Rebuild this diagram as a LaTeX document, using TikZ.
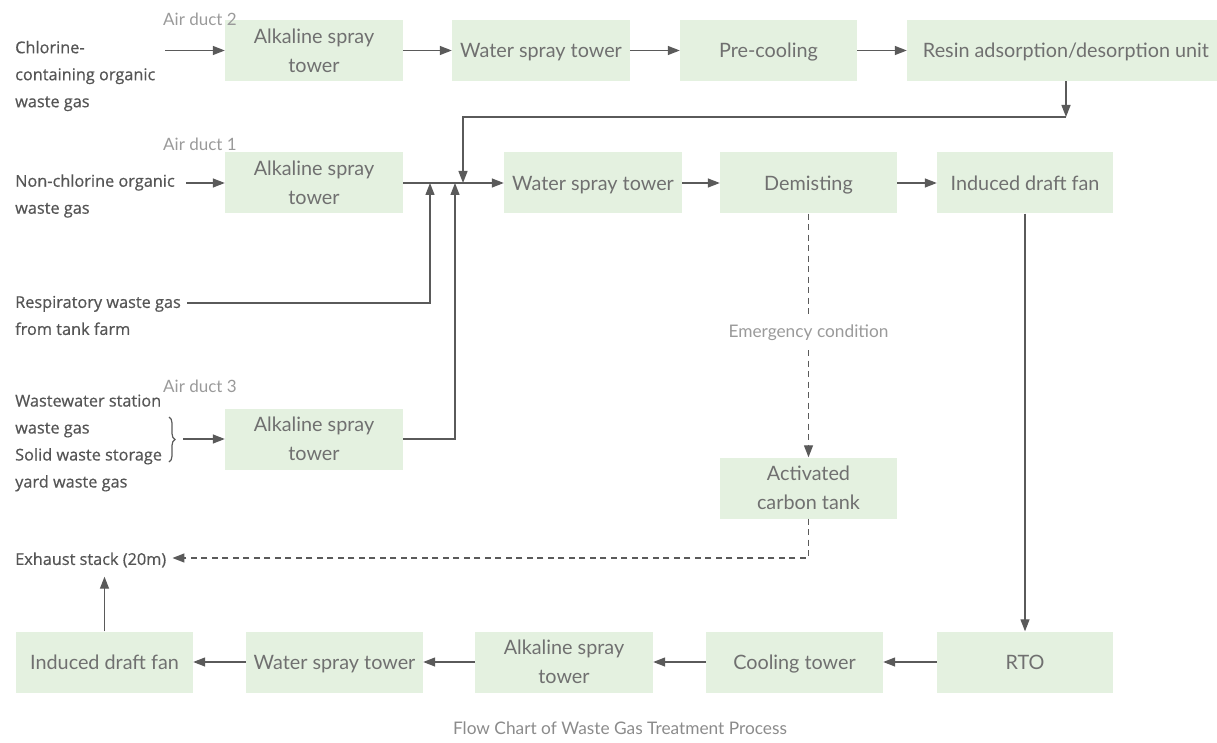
\documentclass[tikz,border=0pt]{standalone}
\usepackage{fontspec}
\setmainfont{Lato}
\newfontfamily\labelfont[FakeBold=0.6]{Open Sans}
\usetikzlibrary{arrows.meta,decorations.pathreplacing}
\definecolor{boxfill}{HTML}{E4F1E0}
\definecolor{linegray}{HTML}{5A5A5A}
\definecolor{boxtext}{HTML}{707070}
\definecolor{labeltext}{HTML}{555555}
\definecolor{softtext}{HTML}{9A9A9A}
\tikzset{
  x=1pt, y=-1pt,
  box/.style={rectangle, fill=boxfill, minimum width=178pt, minimum height=61pt,
    inner sep=0pt, align=center, text=boxtext,
    font=\fontsize{19.8}{29}\selectfont},
  oneline/.style={box, text height=16pt, text depth=1.6pt},
  srclabel/.style={anchor=west, align=left, inner sep=0pt, text=labeltext,
    font=\labelfont\fontsize{16.3}{27}\selectfont},
  ductlabel/.style={inner sep=0pt, text=softtext, font=\fontsize{17}{20}\selectfont},
  flow/.style={draw=linegray, line width=1.3pt,
    -{Triangle[length=12pt,width=9pt]}},
  dashflow/.style={flow, dash pattern=on 6pt off 4.5pt},
}
\begin{document}
\begin{tikzpicture}
\useasboundingbox (0,0) rectangle (1217,743);

% upper row: chlorine-containing line
\node[box] (alkA) at (314,50.5) {Alkaline spray\\tower};
\node[oneline] (wsA) at (541,50.5) {Water spray tower};
\node[oneline, minimum width=177pt] (pre) at (768.5,50.5) {Pre-cooling};
\node[oneline, minimum width=318pt] (resin) at (1066,50.5) {Resin adsorption/desorption unit};

% second row: main treatment line
\node[box] (alkB) at (314,183) {Alkaline spray\\tower};
\node[oneline] (wsB) at (593,183) {Water spray tower};
\node[oneline, minimum width=177pt] (demist) at (808.5,183) {Demisting};
\node[oneline, minimum width=176pt] (fanA) at (1025,183) {Induced draft fan};

% air duct 3
\node[box] (alkC) at (314,439) {Alkaline spray\\tower};

% emergency branch
\node[box, minimum width=177pt] (carbon) at (808.5,488) {Activated\\carbon tank};

% bottom row: RTO line
\node[oneline, minimum width=176pt] (rto) at (1025,662) {RTO};
\node[oneline, minimum width=177pt] (cool) at (794.5,662) {Cooling tower};
\node[box] (alkD) at (564,662) {Alkaline spray\\tower};
\node[oneline, minimum width=177pt] (wsC) at (334.5,662) {Water spray tower};
\node[oneline, minimum width=177pt] (fanB) at (104.5,662) {Induced draft fan};

% sources
\node[srclabel] (chl) at (15,76) {Chlorine-\\containing organic\\waste gas};
\node[srclabel] (nonchl) at (15,196) {Non-chlorine organic\\waste gas};
\node[srclabel] (resp) at (15,315.5) {Respiratory waste gas\\from tank farm};
\node[srclabel] (ww) at (15,443) {Wastewater station\\waste gas\\Solid waste storage\\yard waste gas};
\node[srclabel] (exh) at (15,560) {Exhaust stack (20m)};

% duct labels
\node[ductlabel, anchor=west] (dA) at (163,19) {Air duct 2};
\node[ductlabel, anchor=west] (dB) at (163,144) {Air duct 1};
\node[ductlabel, anchor=west] (dC) at (163,386) {Air duct 3};

% source ends and junction points
\coordinate (chlout) at (165,50.5);
\coordinate (nonout) at (186,183);
\coordinate (respout) at (187,303);
\coordinate (wwout) at (183,439);
\coordinate (jresp) at (430,183);
\coordinate (jalkC) at (455,183);
\coordinate (jresin) at (463,183);
\coordinate (resinturn) at (1066,117);
\coordinate (exhturn) at (808.5,558);

% brace grouping the two sources of air duct 3
\draw[linegray, line width=1.2pt, decorate, decoration={brace, amplitude=6pt}]
  (169,417) -- (169,462);

% upper row connectors
\draw[flow] (chlout) -- (alkA.west);
\draw[flow] (alkA) -- (wsA);
\draw[flow] (wsA) -- (pre);
\draw[flow] (pre) -- (resin);
\draw[flow] (resin.south) -- (resinturn);
\draw[flow] (resinturn) -| (jresin);

% second row connectors
\draw[flow] (nonout) -- (alkB.west);
\draw[flow] (alkB) -- (wsB);
\draw[flow] (respout) -| (jresp);
\draw[flow] (alkC.east) -| (jalkC);
\draw[flow] (wwout) -- (alkC.west);
\draw[flow] (wsB) -- (demist);
\draw[flow] (demist) -- (fanA);

% emergency branch
\draw[dashflow] (demist.south) -- (carbon.north)
  node[pos=0.49, fill=white, inner ysep=7pt, inner xsep=2pt, text=softtext,
       font=\fontsize{17.3}{20}\selectfont] (emer) {Emergency condition};
\draw[dashflow] (carbon.south) -- (exhturn) -- ([xshift=6pt]exh.east |- exhturn);

% RTO line
\draw[flow] (fanA.south) -- (rto.north);
\draw[flow] (rto) -- (cool);
\draw[flow] (cool) -- (alkD);
\draw[flow] (alkD) -- (wsC);
\draw[flow] (wsC) -- (fanB);
\draw[flow] (fanB.north) -- ([yshift=-9pt]fanB.north |- exh.south);

% caption
\node[text=softtext!90!black, font=\fontsize{17.3}{20}\selectfont] (cap) at (620,728) {Flow Chart of Waste Gas Treatment Process};
\end{tikzpicture}
\end{document}
